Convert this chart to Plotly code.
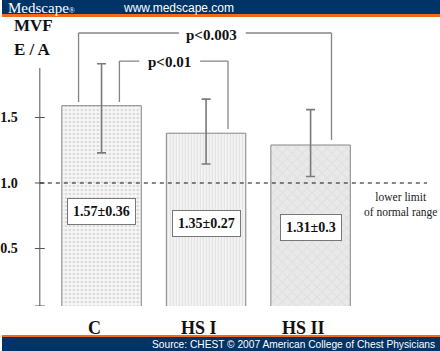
import plotly.graph_objects as go

# ---- data ----
categories = ["C", "HS I", "HS II"]
bar_values = [1.59, 1.38, 1.29]
err_upper = [1.91, 1.64, 1.56]
err_lower = [1.23, 1.145, 1.05]
value_labels = ["1.57±0.36", "1.35±0.27", "1.31±0.3"]
label_y = [0.786, 0.69, 0.66]
tick_vals = [0.5, 1.0, 1.5]
tick_text = ["0.5", "1.0", "1.5"]
axis_min, axis_max = 0.061, 1.878
normal_limit = 1.0

W, H = 440, 351
SERIF = "Liberation Serif, Times New Roman, serif"
SANS = "Liberation Sans, Arial, sans-serif"
BLUE = "#003366"
ORANGE = "#f26b1d"
GRAY = "#858585"

patterns = [
    dict(shape=".", size=4, solidity=0.35, fgcolor="#bdbdbd", bgcolor="#f6f6f6"),
    dict(shape="|", size=3, solidity=0.35, fgcolor="#d0d0d0", bgcolor="#f3f3f3"),
    dict(shape="x", size=7, solidity=0.3, fgcolor="#d4d4d4", bgcolor="#e9e9e9"),
]

fig = go.Figure()
for i, cat in enumerate(categories):
    fig.add_trace(go.Bar(
        x=[cat], y=[bar_values[i]], base=0,
        width=0.76,
        marker=dict(color="#f0f0f0", pattern=patterns[i],
                    line=dict(color=GRAY, width=1)),
        error_y=dict(type="data", symmetric=False,
                     array=[err_upper[i] - bar_values[i]],
                     arrayminus=[bar_values[i] - err_lower[i]],
                     color="#7a7a7a", thickness=1.6, width=4.5),
        showlegend=False, hoverinfo="skip",
    ))

x_left_px = 38
shapes = []
# header / footer bands
band = dict(xref="paper", yref="paper", type="rect", line_width=0, layer="below")
shapes.append(dict(band, x0=0, x1=1, y0=1 - 14 / H, y1=1, fillcolor=BLUE))
shapes.append(dict(band, x0=0, x1=1, y0=1 - 17 / H, y1=1 - 14 / H, fillcolor=ORANGE))
shapes.append(dict(band, x0=0, x1=1, y0=0, y1=1 - 337 / H, fillcolor=BLUE))
shapes.append(dict(band, x0=0, x1=1, y0=1 - 337 / H, y1=1 - 335 / H, fillcolor=ORANGE))
# y axis line and ticks
ax_x = x_left_px / W
shapes.append(dict(type="line", xref="paper", yref="y", x0=ax_x, x1=ax_x,
                   y0=axis_min, y1=axis_max, line=dict(color="#555555", width=1)))
for tv in tick_vals + [axis_min]:
    shapes.append(dict(type="line", xref="paper", yref="y", x0=ax_x - 5 / W, x1=ax_x + 5 / W,
                       y0=tv, y1=tv, line=dict(color="#555555", width=1)))
# dashed normal-limit line
shapes.append(dict(type="line", xref="paper", yref="y", x0=ax_x, x1=427 / W,
                   y0=normal_limit, y1=normal_limit,
                   line=dict(color="#111111", width=1.1, dash="4px,4px")))

# significance brackets (x in category units, y in data units)
def bracket(xl, xr, yl, yr, ytop, gap_l, gap_r):
    c = dict(color=GRAY, width=1.3)
    return [
        dict(type="line", xref="x", yref="y", x0=xl, x1=xl, y0=yl, y1=ytop, line=c),
        dict(type="line", xref="x", yref="y", x0=xl, x1=gap_l, y0=ytop, y1=ytop, line=c),
        dict(type="line", xref="x", yref="y", x0=gap_r, x1=xr, y0=ytop, y1=ytop, line=c),
        dict(type="line", xref="x", yref="y", x0=xr, x1=xr, y0=ytop, y1=yr, line=c),
    ]

shapes += bracket(-0.22, 2.2, 1.618, 1.328, 2.145, 0.74, 1.38)
shapes += bracket(0.171, 1.21, 1.618, 1.412, 1.931, 0.362, 0.943)

def ann(**kw):
    base = dict(showarrow=False, xanchor="center", yanchor="middle")
    base.update(kw)
    return base

annotations = []
annotations.append(ann(text="<b>p<0.003</b>", x=1.05, y=2.128, xref="x", yref="y",
                       font=dict(family=SERIF, size=15, color="#111")))
annotations.append(ann(text="<b>p<0.01</b>", x=0.65, y=1.921, xref="x", yref="y",
                       font=dict(family=SERIF, size=15, color="#111")))
for i, cat in enumerate(categories):
    annotations.append(ann(text="<b>" + value_labels[i] + "</b>", x=cat, y=label_y[i],
                           xref="x", yref="y",
                           bgcolor="white", bordercolor="#777777", borderwidth=1, borderpad=5,
                           font=dict(family=SERIF, size=14, color="#111")))
    annotations.append(ann(text="<b>" + cat + "</b>", x=cat, y=1 - 328 / H,
                           xref="x", yref="paper", xshift=-7,
                           font=dict(family=SERIF, size=18, color="#111")))
annotations.append(ann(text="lower limit<br>of normal range", x=400 / W, y=1 - 205 / H,
                       xref="paper", yref="paper",
                       font=dict(family=SERIF, size=11.5, color="#222")))
annotations.append(ann(text="<b>MVF</b>", x=32 / W, y=1 - 25 / H, xref="paper", yref="paper",
                       font=dict(family=SERIF, size=17, color="#111")))
annotations.append(ann(text="<b>E / A</b>", x=31 / W, y=1 - 49 / H, xref="paper", yref="paper",
                       font=dict(family=SERIF, size=17, color="#111")))
annotations.append(ann(text="Medscape<span style='font-size:8px'>®</span>", x=4 / W, y=1 - 7.5 / H,
                       xref="paper", yref="paper", xanchor="left",
                       font=dict(family=SERIF, size=15, color="white")))
annotations.append(ann(text="www.medscape.com", x=120 / W, y=1 - 7.5 / H,
                       xref="paper", yref="paper", xanchor="left",
                       font=dict(family=SANS, size=12, color="white")))
annotations.append(ann(text="Source: CHEST © 2007 American College of Chest Physicians",
                       x=437 / W, y=1 - 344 / H, xref="paper", yref="paper",
                       xanchor="right",
                       font=dict(family=SANS, size=10.2, color="white")))

px_per_cat = 105.0
c0_px = 100.0
fig.update_layout(
    width=W, height=H, autosize=False,
    margin=dict(l=0, r=0, t=0, b=0),
    paper_bgcolor="white", plot_bgcolor="rgba(0,0,0,0)",
    bargap=0.2,
    shapes=shapes, annotations=annotations,
    xaxis=dict(domain=[x_left_px / W, 1],
               range=[(x_left_px - c0_px) / px_per_cat, (W - c0_px) / px_per_cat],
               showgrid=False, zeroline=False, showline=False, showticklabels=False,
               ticks="", fixedrange=True),
    yaxis=dict(domain=[1 - 306 / H, 1],
               range=[axis_min, normal_limit + 183 / 131.0],
               tickvals=tick_vals, ticktext=["<b>" + t + "</b>" for t in tick_text],
               tickfont=dict(family=SERIF, size=14, color="#111"),
               ticks="", ticklabelstandoff=21,
               showgrid=False, zeroline=False, showline=False, fixedrange=True),
)

fig.write_html("out.html")
